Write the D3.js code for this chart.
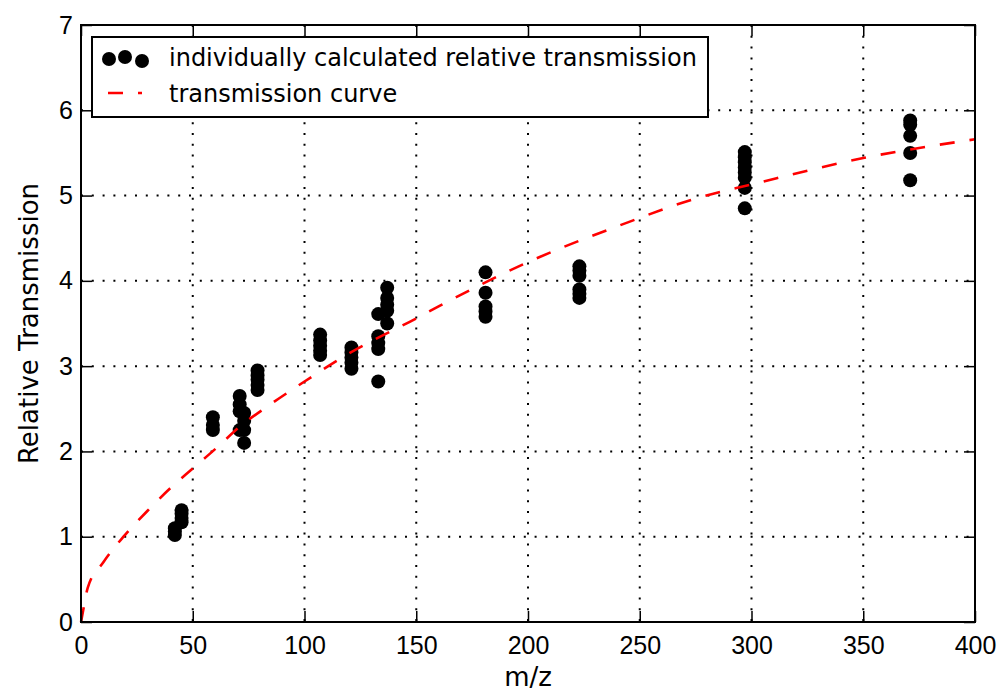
<!DOCTYPE html>
<html>
<head>
<meta charset="UTF-8">
<title>Relative Transmission</title>
<style>
  body { margin: 0; background: #fff; }
  svg { font-family: "DejaVu Sans", sans-serif; display: block; }
  .grid line { stroke: #000; stroke-width: 2; stroke-dasharray: 2, 8.8; }
  .axis path { display: none; }
  .axis line { stroke: #000; stroke-width: 1.5; }
  .axis text { font-size: 25px; fill: #000; }
</style>
</head>
<body>
<svg id="chart"></svg>
<script src="https://d3js.org/d3.v7.min.js"></script>
<script>
// m/z of each measured compound and the transmission values calculated for it
var mzValues = [42, 45, 59, 71, 73, 79, 107, 121, 133, 137, 181, 223, 297, 371];
var transmission = [
  [1.02, 1.06, 1.10],
  [1.17, 1.22, 1.27, 1.31],
  [2.25, 2.31, 2.40],
  [2.65, 2.55, 2.47, 2.25],
  [2.45, 2.36, 2.25, 2.10],
  [2.95, 2.89, 2.84, 2.78, 2.72],
  [3.37, 3.30, 3.24, 3.18, 3.13],
  [3.22, 3.16, 3.10, 3.04, 2.97],
  [3.61, 3.35, 3.27, 3.20, 2.82],
  [3.92, 3.80, 3.72, 3.65, 3.50],
  [4.10, 3.86, 3.70, 3.64, 3.58],
  [4.17, 4.12, 4.06, 3.90, 3.85, 3.80],
  [5.51, 5.45, 5.39, 5.33, 5.27, 5.21, 5.09, 4.85],
  [5.88, 5.83, 5.70, 5.50, 5.18]
];

// transmission curve
var curveMz = [0, 1, 3, 10, 19, 30, 40, 50, 61, 71, 83, 100, 120, 150, 160, 200, 240, 277, 300, 350, 400];
var curveValue = [0, 0.14, 0.40, 0.70, 1.0, 1.31, 1.57, 1.80, 2.05, 2.29, 2.52, 2.82, 3.15, 3.56, 3.70, 4.22, 4.64, 4.98, 5.13, 5.44, 5.66];

var xTicks = [0, 50, 100, 150, 200, 250, 300, 350, 400];
var yTicks = [0, 1, 2, 3, 4, 5, 6, 7];

var legendLabels = ["individually calculated relative transmission", "transmission curve"];

var vWidth = 1000, vHeight = 693;
var margin = {top: 25, right: 25, bottom: 71, left: 81};
var w = vWidth - margin.left - margin.right;
var h = vHeight - margin.top - margin.bottom;

var svg = d3.select('#chart').attr('width', vWidth).attr('height', vHeight);
var g = svg.append('g').attr('transform', 'translate(' + margin.left + ',' + margin.top + ')');

var x = d3.scaleLinear().domain([0, 400]).range([0, w]);
var y = d3.scaleLinear().domain([0, 7]).range([h, 0]);

// dotted grid
var grid = g.append('g').attr('class', 'grid');
grid.selectAll('.gx').data(xTicks.slice(1, -1)).enter().append('line')
  .attr('x1', function (d) { return x(d); }).attr('x2', function (d) { return x(d); })
  .attr('y1', 0).attr('y2', h);
grid.selectAll('.gy').data(yTicks.slice(1, -1)).enter().append('line')
  .attr('y1', function (d) { return y(d); }).attr('y2', function (d) { return y(d); })
  .attr('x1', 0).attr('x2', w);

// points
var points = [];
mzValues.forEach(function (mz, i) {
  transmission[i].forEach(function (v) { points.push({mz: mz, v: v}); });
});
g.append('g').selectAll('circle').data(points).enter().append('circle')
  .attr('cx', function (d) { return x(d.mz); })
  .attr('cy', function (d) { return y(d.v); })
  .attr('r', 7)
  .attr('fill', '#000');

// curve
var curveData = curveMz.map(function (m, i) { return [m, curveValue[i]]; });
var line = d3.line()
  .x(function (d) { return x(d[0]); })
  .y(function (d) { return y(d[1]); })
  .curve(d3.curveMonotoneX);
g.append('path').datum(curveData)
  .attr('d', line)
  .attr('fill', 'none')
  .attr('stroke', '#ff0000')
  .attr('stroke-width', 2.6)
  .attr('stroke-dasharray', '15,15');

// axes, ticks pointing inward on all four sides
var tick = 11;
g.append('g').attr('class', 'axis').attr('transform', 'translate(0,' + h + ')')
  .call(d3.axisBottom(x).tickValues(xTicks).tickSizeInner(-tick).tickSizeOuter(0).tickPadding(14));
g.append('g').attr('class', 'axis')
  .call(d3.axisTop(x).tickValues(xTicks).tickSizeInner(-tick).tickSizeOuter(0).tickFormat(''));
g.append('g').attr('class', 'axis')
  .call(d3.axisLeft(y).tickValues(yTicks).tickFormat(d3.format('d'))
    .tickSizeInner(-tick).tickSizeOuter(0).tickPadding(8));
g.append('g').attr('class', 'axis').attr('transform', 'translate(' + w + ',0)')
  .call(d3.axisRight(y).tickValues(yTicks).tickSizeInner(-tick).tickSizeOuter(0).tickFormat(''));

g.append('rect').attr('width', w).attr('height', h)
  .attr('fill', 'none').attr('stroke', '#000').attr('stroke-width', 2);

// axis titles
svg.append('text')
  .attr('x', margin.left + w / 2).attr('y', 686)
  .attr('text-anchor', 'middle').attr('font-size', 26)
  .text('m/z');
svg.append('text')
  .attr('transform', 'translate(38,' + (margin.top + h / 2) + ') rotate(-90)')
  .attr('text-anchor', 'middle').attr('font-size', 26)
  .text('Relative Transmission');

// legend
var lg = svg.append('g').attr('transform', 'translate(92,37)');
lg.append('rect').attr('width', 616).attr('height', 80)
  .attr('fill', '#fff').attr('stroke', '#000').attr('stroke-width', 2);
[[17, 22], [33, 20], [50, 24]].forEach(function (p) {
  lg.append('circle').attr('cx', p[0]).attr('cy', p[1]).attr('r', 7).attr('fill', '#000');
});
lg.append('line').attr('x1', 16).attr('x2', 50).attr('y1', 56).attr('y2', 56)
  .attr('stroke', '#ff0000').attr('stroke-width', 2.6).attr('stroke-dasharray', '15,15');
lg.selectAll('.lt').data(legendLabels).enter().append('text')
  .attr('x', 77)
  .attr('y', function (d, i) { return 29 + i * 36; })
  .attr('font-size', 24)
  .text(function (d) { return d; });
</script>
</body>
</html>
